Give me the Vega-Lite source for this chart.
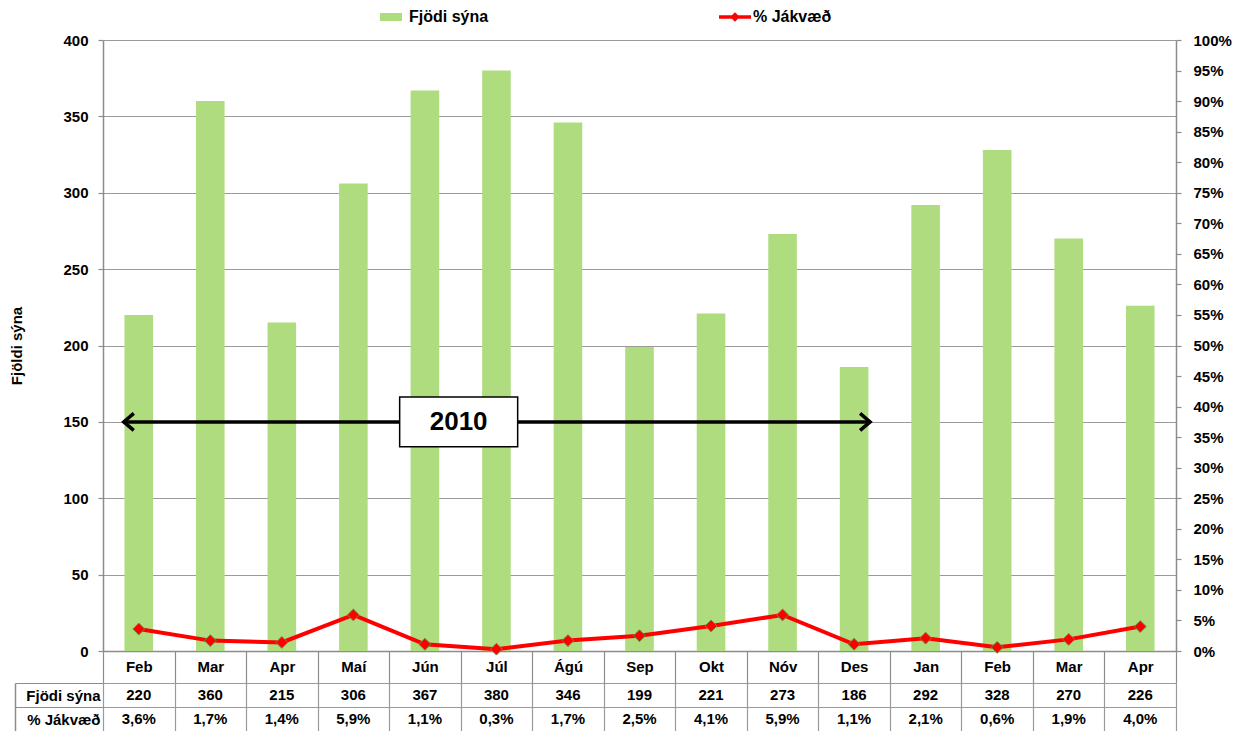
{
  "$schema": "https://vega.github.io/schema/vega-lite/v6.json",
  "padding": {"left": 9, "top": 1, "right": 5, "bottom": 0},
  "config": {
    "font": "Liberation Sans",
    "view": {"stroke": null},
    "axis": {
      "labelFont": "Liberation Sans", "labelFontWeight": "bold", "labelFontSize": 15, "labelColor": "#000000",
      "titleFont": "Liberation Sans", "titleFontWeight": "bold", "titleFontSize": 15, "titleColor": "#000000",
      "domainColor": "#8c8c8c", "tickColor": "#8c8c8c", "gridColor": "#9a9a9a", "domainWidth": 1.5, "tickWidth": 1.2, "gridWidth": 1.2
    },
    "legend": {"labelFont": "Liberation Sans", "labelFontWeight": "bold", "labelFontSize": 16, "labelColor": "#000000"}
  },
  "datasets": {
    "months": [
      {"key": "01Feb", "n": 220, "pct": 0.036, "pctLabel": "3,6%"},
      {"key": "02Mar", "n": 360, "pct": 0.017, "pctLabel": "1,7%"},
      {"key": "03Apr", "n": 215, "pct": 0.014, "pctLabel": "1,4%"},
      {"key": "04Maí", "n": 306, "pct": 0.059, "pctLabel": "5,9%"},
      {"key": "05Jún", "n": 367, "pct": 0.011, "pctLabel": "1,1%"},
      {"key": "06Júl", "n": 380, "pct": 0.003, "pctLabel": "0,3%"},
      {"key": "07Ágú", "n": 346, "pct": 0.017, "pctLabel": "1,7%"},
      {"key": "08Sep", "n": 199, "pct": 0.025, "pctLabel": "2,5%"},
      {"key": "09Okt", "n": 221, "pct": 0.041, "pctLabel": "4,1%"},
      {"key": "10Nóv", "n": 273, "pct": 0.059, "pctLabel": "5,9%"},
      {"key": "11Des", "n": 186, "pct": 0.011, "pctLabel": "1,1%"},
      {"key": "12Jan", "n": 292, "pct": 0.021, "pctLabel": "2,1%"},
      {"key": "13Feb", "n": 328, "pct": 0.006, "pctLabel": "0,6%"},
      {"key": "14Mar", "n": 270, "pct": 0.019, "pctLabel": "1,9%"},
      {"key": "15Apr", "n": 226, "pct": 0.040, "pctLabel": "4,0%"}
    ]
  },
  "spacing": 32,
  "bounds": "flush",
  "resolve": {"legend": {"color": "independent"}},
  "vconcat": [
    {
      "width": 1073,
      "height": 611,
      "layer": [
        {
          "layer": [
            {
              "data": {"name": "months"},
              "mark": {"type": "bar", "width": {"band": 0.4}},
              "encoding": {
                "x": {
                  "field": "key", "type": "ordinal",
                  "scale": {"paddingInner": 0, "paddingOuter": 0},
                  "axis": {
                    "title": null, "labelAngle": 0, "tickBand": "extent", "tickSize": 32, "labelPadding": -24,
                    "labelExpr": "substring(datum.label, 2)", "grid": false
                  }
                },
                "y": {
                  "field": "n", "type": "quantitative",
                  "scale": {"domain": [0, 400], "nice": false},
                  "axis": {
                    "title": "Fjöldi sýna", "values": [0, 50, 100, 150, 200, 250, 300, 350, 400],
                    "tickSize": 5, "labelPadding": 10, "titlePadding": 38, "grid": true
                  }
                },
                "color": {
                  "datum": "Fjödi sýna", "type": "nominal",
                  "scale": {"domain": ["Fjödi sýna", "% Jákvæð"], "range": ["#B0DC80", "#FF0000"]},
                  "legend": {
                    "title": null, "orient": "none", "legendX": 272, "legendY": -39, "direction": "horizontal",
                    "columnPadding": 230, "labelOffset": 2, "symbolSize": 1024,
                    "encode": {
                      "symbols": {
                        "update": {
                          "shape": {"signal": "datum.value === 'Fjödi sýna' ? 'M-0.69,-0.25H0.69V0.25H-0.69Z' : 'M-1,-0.11H1V0.11H-1Z M0,-0.3L0.3,0L0,0.3L-0.3,0Z'"},
                          "fill": {"signal": "datum.value === 'Fjödi sýna' ? '#B0DC80' : '#FF0000'"},
                          "stroke": {"value": "transparent"},
                          "strokeWidth": {"value": 0},
                          "size": {"value": 1024},
                          "opacity": {"value": 1}
                        }
                      }
                    }
                  }
                }
              }
            },
            {
              "data": {"values": [{"from": "01Feb", "to": "11Des", "mid": "05Jún", "y": 150, "label": "2010"}]},
              "layer": [
                {
                  "mark": {"type": "rule", "color": "#000000", "strokeWidth": 3.5, "xOffset": -15, "x2Offset": 16},
                  "encoding": {
                    "x": {"field": "from", "type": "ordinal"},
                    "x2": {"field": "to"},
                    "y": {"field": "y", "type": "quantitative"}
                  }
                },
                {
                  "mark": {"type": "point", "shape": "M2,-1.7L0,0L2,1.7", "size": 100, "filled": false, "stroke": "#000000", "strokeWidth": 3.5, "xOffset": -15, "opacity": 1},
                  "encoding": {
                    "x": {"field": "from", "type": "ordinal"},
                    "y": {"field": "y", "type": "quantitative"}
                  }
                },
                {
                  "mark": {"type": "point", "shape": "M-2,-1.7L0,0L-2,1.7", "size": 100, "filled": false, "stroke": "#000000", "strokeWidth": 3.5, "xOffset": 16, "opacity": 1},
                  "encoding": {
                    "x": {"field": "to", "type": "ordinal"},
                    "y": {"field": "y", "type": "quantitative"}
                  }
                },
                {
                  "mark": {"type": "point", "shape": "M-1,-0.42H1V0.42H-1Z", "size": 13924, "filled": true, "fill": "#FFFFFF", "stroke": "#000000", "strokeWidth": 1.5, "opacity": 1, "xOffset": -2},
                  "encoding": {
                    "x": {"field": "mid", "type": "ordinal", "bandPosition": 1},
                    "y": {"field": "y", "type": "quantitative"}
                  }
                },
                {
                  "mark": {"type": "text", "fontSize": 26, "fontWeight": "bold", "color": "#000000", "baseline": "middle", "align": "center", "xOffset": -2},
                  "encoding": {
                    "x": {"field": "mid", "type": "ordinal", "bandPosition": 1},
                    "y": {"field": "y", "type": "quantitative"},
                    "text": {"field": "label"}
                  }
                }
              ]
            }
          ]
        },
        {
          "data": {"name": "months"},
          "mark": {
            "type": "line", "strokeWidth": 4,
            "point": {"shape": "diamond", "filled": true, "size": 140, "stroke": "#6E8B3D", "strokeWidth": 1}
          },
          "encoding": {
            "x": {"field": "key", "type": "ordinal"},
            "y": {
              "field": "pct", "type": "quantitative",
              "scale": {"domain": [0, 1], "nice": false},
              "axis": {
                "orient": "right", "title": null, "format": ".0%", "grid": false,
                "values": [0, 0.05, 0.1, 0.15, 0.2, 0.25, 0.3, 0.35, 0.4, 0.45, 0.5, 0.55, 0.6, 0.65, 0.7, 0.75, 0.8, 0.85, 0.9, 0.95, 1],
                "tickSize": 5, "labelPadding": 12
              }
            },
            "color": {"datum": "% Jákvæð", "type": "nominal"}
          }
        }
      ],
      "resolve": {"scale": {"y": "independent"}}
    },
    {
      "width": 1073,
      "height": 48,
      "data": {"name": "months"},
      "layer": [
        {
          "mark": {"type": "text", "fontSize": 15, "fontWeight": "bold", "color": "#000000"},
          "encoding": {
            "x": {
              "field": "key", "type": "ordinal",
              "scale": {"paddingInner": 0, "paddingOuter": 0},
              "axis": {"title": null, "labels": false, "ticks": false, "domain": false, "grid": true, "tickBand": "extent"}
            },
            "y": {
              "datum": "Fjödi sýna", "type": "nominal",
              "scale": {"type": "band", "domain": ["Fjödi sýna", "% Jákvæð"], "paddingInner": 0, "paddingOuter": 0},
              "axis": {
                "title": null, "orient": "left", "offset": 88, "tickSize": -88, "labelPadding": 3,
                "tickBand": "extent", "grid": true, "domain": true
              }
            },
            "text": {"field": "n", "type": "quantitative"}
          }
        },
        {
          "mark": {"type": "text", "fontSize": 15, "fontWeight": "bold", "color": "#000000"},
          "encoding": {
            "x": {"field": "key", "type": "ordinal"},
            "y": {"datum": "% Jákvæð", "type": "nominal"},
            "text": {"field": "pctLabel", "type": "nominal"}
          }
        }
      ]
    }
  ]
}
